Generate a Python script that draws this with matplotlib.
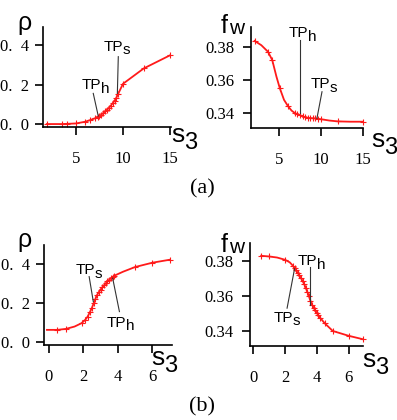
import numpy as np
import matplotlib
matplotlib.use("Agg")
import matplotlib.pyplot as plt

plt.rcParams['font.family'] = ['Liberation Sans', 'DejaVu Sans']

# ---- data ----
# (a) rho vs s3
a_rho_x = [1.9, 3.5, 4.0, 5.0, 6.0, 6.5, 7.0, 7.3, 7.5, 7.7, 7.9, 8.1, 8.3, 8.5, 8.7, 8.9,
           9.1, 9.3, 9.5, 10.0, 12.2, 15.0]
a_rho_y = [0.0, 0.0, 0.001, 0.003, 0.012, 0.02, 0.029, 0.036, 0.041, 0.048, 0.056, 0.064,
           0.073, 0.082, 0.093, 0.106, 0.118, 0.135, 0.155, 0.205, 0.283, 0.35]
a_rho_mark = list(range(len(a_rho_x)))

# (a) fw vs s3
a_fw_x = [2.1, 2.9, 3.7, 4.2, 4.7, 5.1, 5.6, 6.1, 6.5, 6.9, 7.2, 7.5, 7.8, 8.1, 8.4, 8.7,
          9.0, 9.3, 9.6, 10.0, 11.0, 12.0, 13.5, 15.0]
a_fw_y = [0.3836, 0.381, 0.377, 0.372, 0.362, 0.355, 0.348, 0.344, 0.3415, 0.340, 0.3393,
          0.3388, 0.3380, 0.3375, 0.3372, 0.3370, 0.3369, 0.3368, 0.3366, 0.3363, 0.3355,
          0.3350, 0.3348, 0.3348]
a_fw_mark = [0, 2, 3, 5, 7] + list(range(9, 20)) + [21, 23]

# (b) rho vs s3
b_rho_x = [-0.1, 0.5, 1.0, 1.5, 1.9, 2.1, 2.25, 2.4, 2.5, 2.6, 2.7, 2.8, 2.9, 3.0, 3.1,
           3.2, 3.3, 3.4, 3.5, 3.6, 3.7, 3.8, 4.3, 5.0, 6.0, 7.0]
b_rho_y = [0.063, 0.063, 0.068, 0.08, 0.097, 0.113, 0.13, 0.156, 0.175, 0.198, 0.22, 0.241,
           0.255, 0.268, 0.28, 0.29, 0.30, 0.31, 0.318, 0.326, 0.333, 0.339, 0.359, 0.383,
           0.405, 0.42]
b_rho_mark = [1, 2] + list(range(4, 22)) + [23, 24, 25]

# (b) fw vs s3
b_fw_x = [0.5, 1.0, 1.5, 2.0, 2.3, 2.5, 2.6, 2.7, 2.8, 2.9, 3.0, 3.1, 3.2, 3.3, 3.4, 3.5,
          3.6, 3.7, 3.8, 3.9, 4.0, 4.1, 4.2, 4.5, 5.0, 6.0, 6.9]
b_fw_y = [0.3833, 0.3829, 0.3823, 0.381, 0.3795, 0.3775, 0.3762, 0.3748, 0.3734, 0.3719,
          0.3704, 0.3688, 0.3670, 0.3648, 0.3625, 0.3600, 0.3572, 0.3550, 0.3532, 0.3517,
          0.3502, 0.3488, 0.3475, 0.3442, 0.3398, 0.3370, 0.335]
b_fw_mark = [0, 1, 3] + list(range(5, 24)) + [24, 25, 26]

# tick labels
rho_ticks = [0.0, 0.2, 0.4]
rho_ticklabels = ['0.  0', '0.  2', '0.  4']
fw_ticks = [0.34, 0.36, 0.38]
fw_ticklabels = ['0.34', '0.36', '0.38']
a_xticks = [5, 10, 15]
b_xticks = [0, 2, 4, 6]

# annotations: (sub, text xy, line start, line end)
a_rho_notes = [('s', (7.9, 0.373), (9.5, 0.343), (9.4, 0.156)),
               ('h', (5.6, 0.177), (6.84, 0.156), (7.37, 0.041))]
a_fw_notes = [('h', (6.15, 0.3857), (7.46, 0.384), (7.46, 0.3399)),
              ('s', (8.77, 0.355), (10.12, 0.3529), (9.52, 0.3369))]
b_rho_notes = [('s', (1.57, 0.346), (2.34, 0.334), (2.58, 0.207)),
               ('h', (3.35, 0.079), (4.09, 0.156), (3.7, 0.326))]
b_fw_notes = [('h', (2.8, 0.3777), (3.6, 0.377), (3.6, 0.3549)),
              ('s', (1.3, 0.3452), (2.13, 0.353), (2.6, 0.3758))]

W, H = 397, 420
fig = plt.figure(figsize=(W / 100, H / 100), dpi=100)


def px_axes(l, t, r, b):
    return fig.add_axes([l / W, 1 - b / H, (r - l) / W, (b - t) / H])


def style(ax, xlim, ylim, xt, yt, ytl, ypad):
    ax.set_xlim(*xlim)
    ax.set_ylim(*ylim)
    for s in ['top', 'right']:
        ax.spines[s].set_visible(False)
    for s in ['left', 'bottom']:
        ax.spines[s].set_linewidth(1.2)
    ax.set_xticks(xt)
    ax.set_xticklabels([str(v) for v in xt], family='Liberation Serif', fontsize=12)
    ax.set_yticks(yt)
    ax.set_yticklabels(ytl, family='Liberation Serif', fontsize=12)
    ax.tick_params(axis='x', direction='out', length=6, width=1.2, pad=11)
    ax.tick_params(axis='y', direction='out', length=6, width=1.2, pad=ypad)


def curve(ax, x, y, mark):
    ax.plot(x, y, '-', color='#ff1a1a', lw=1.3, marker='+', ms=5, mew=0.8,
            markevery=mark, clip_on=False)


def notes(ax, items):
    for sub, txy, p0, p1 in items:
        ax.plot([p0[0], p1[0]], [p0[1], p1[1]], '-', color='#333333', lw=0.8)
        t = ax.text(txy[0], txy[1], 'TP', fontsize=11, va='baseline', ha='left')
        fig.canvas.draw()
        w = t.get_window_extent().width * 72 / 100
        ax.annotate(sub, xy=txy, xycoords='data', xytext=(w - 0.4, -2.5),
                    textcoords='offset points', fontsize=11, va='baseline', ha='left')


def fig_text(px, py, s, size, **kw):
    return fig.text(px / W, 1 - py / H, s, fontsize=size, va='baseline', ha='left', **kw)


def s3_label(px, py):
    t = fig_text(px, py, 's', 19)
    fig.canvas.draw()
    w = t.get_window_extent().width
    fig_text(px + w, py + 7, '3', 17)


ax1 = px_axes(43, 27, 171, 127)
style(ax1, (1.5, 15.1), (-0.015, 0.494), a_xticks, rho_ticks, rho_ticklabels, 4)
curve(ax1, a_rho_x, a_rho_y, a_rho_mark)
notes(ax1, a_rho_notes)

ax2 = px_axes(251, 27, 363, 128)
style(ax2, (1.67, 15.0), (0.331, 0.392), a_xticks, fw_ticks, fw_ticklabels, 6)
curve(ax2, a_fw_x, a_fw_y, a_fw_mark)
notes(ax2, a_fw_notes)

ax3 = px_axes(44, 245, 172, 345)
style(ax3, (-0.27, 7.13), (-0.014, 0.495), b_xticks, rho_ticks, rho_ticklabels, 4)
curve(ax3, b_rho_x, b_rho_y, b_rho_mark)
notes(ax3, b_rho_notes)

ax4 = px_axes(250, 243, 363, 346)
style(ax4, (-0.2, 6.9), (0.3311, 0.3907), b_xticks, fw_ticks, fw_ticklabels, 6)
curve(ax4, b_fw_x, b_fw_y, b_fw_mark)
notes(ax4, b_fw_notes)

# axis names
fig_text(17, 30, 'ρ', 18)
fig_text(17, 247, 'ρ', 18)
for yy in (33, 252):
    fig_text(221, yy, 'f', 18)
    fig_text(229, yy + 1.5, 'w', 15)
s3_label(171, 142)
s3_label(371, 147)
s3_label(151, 365)
s3_label(362, 367)

# panel letters
fig.text(202 / W, 1 - 189 / H, '(a)', family='Liberation Serif', fontsize=16,
         ha='center', va='center')
fig.text(202 / W, 1 - 407 / H, '(b)', family='Liberation Serif', fontsize=16,
         ha='center', va='center')

fig.savefig('out.png', dpi=100)
